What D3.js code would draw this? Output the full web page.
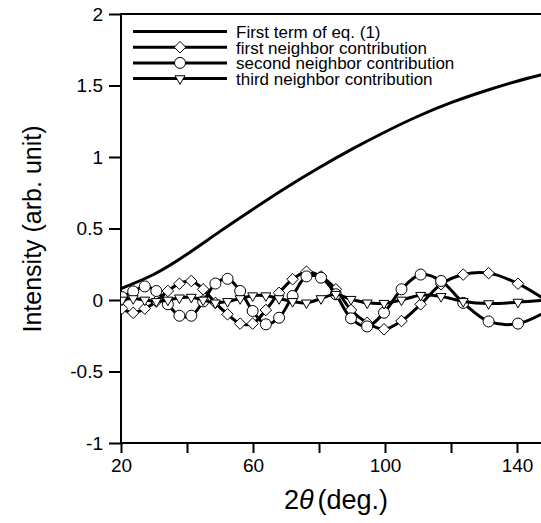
<!DOCTYPE html>
<html>
<head>
<meta charset="utf-8">
<script src="https://cdn.jsdelivr.net/npm/d3@7/dist/d3.min.js"></script>
<style>
    html, body { margin: 0; padding: 0; background: #fff; }
    #chart-container { width: 541px; height: 523px; }
    text { font-family: "Liberation Sans", Arial, sans-serif; fill: #000; }
</style>
</head>
<body>
<div id="chart-container"></div>
<script>
// 2theta positions of the plotted points (deg.)
const twoTheta = [20.3, 23.7, 27.2, 30.7, 34.2, 37.7, 41.3, 44.9, 48.6, 52.3,
                  56.1, 59.9, 63.9, 67.9, 72.0, 76.2, 80.6, 85.1, 89.7, 94.6,
                  99.7, 105.0, 110.8, 117.0, 123.7, 131.4, 140.3, 151.9];

// neighbor contributions
const firstNeighbor = [-0.06, -0.09, -0.06, -0.01, 0.063, 0.114, 0.133, 0.075, -0.02, -0.10,
                       -0.165, -0.165, -0.07, 0.05, 0.145, 0.198, 0.165, 0.075, -0.07, -0.16,
                       -0.205, -0.147, -0.03, 0.11, 0.178, 0.188, 0.114, -0.05];
const secondNeighbor = [0.02, 0.06, 0.095, 0.063, -0.03, -0.11, -0.11, -0.01, 0.115, 0.148,
                        0.063, -0.077, -0.17, -0.124, 0.028, 0.165, 0.156, 0.04, -0.128, -0.185,
                        -0.089, 0.075, 0.178, 0.133, -0.02, -0.15, -0.165, -0.04];
const thirdNeighbor = [0.0, 0.01, 0.0, -0.01, 0.0, 0.015, 0.02, 0.0, -0.02, -0.01,
                       0.01, 0.03, 0.03, 0.01, -0.01, -0.02, 0.01, 0.04, 0.005, -0.02,
                       -0.023, 0.0, 0.033, 0.025, -0.01, -0.025, -0.015, 0.005];

// first term of eq. (1), smooth curve
const firstTermX = [20, 30, 40, 50, 60, 70, 80, 90, 100, 110, 120, 130, 140, 150];
const firstTermY = [0.08, 0.18, 0.32, 0.48, 0.635, 0.785, 0.925, 1.055, 1.175, 1.285, 1.38, 1.46, 1.53, 1.59];

const xTicks = [20, 40, 60, 80, 100, 120, 140];
const xTickLabels = ['20', '', '60', '', '100', '', '140'];
const yTicks = [-1, -0.5, 0, 0.5, 1, 1.5, 2];
const yTickLabels = ['-1', '-0.5', '0', '0.5', '1', '1.5', '2'];

const legendLabels = ['First term of eq. (1)', 'first neighbor contribution',
                      'second neighbor contribution', 'third neighbor contribution'];

document.addEventListener('DOMContentLoaded', function() {
    const container = document.getElementById('chart-container');

    // Plot area in page pixels
    const left = 121, right = 541, top = 14, bottom = 443;

    const svg = d3.select(container)
        .append('svg')
        .attr('width', 541)
        .attr('height', 523);

    // Scales
    const x = d3.scaleLinear()
        .domain([20, 140])
        .range([left, 517]);

    const y = d3.scaleLinear()
        .domain([-1, 2])
        .range([bottom, top]);

    svg.append('clipPath')
        .attr('id', 'plot-clip')
        .append('rect')
        .attr('x', left)
        .attr('y', top)
        .attr('width', right - left)
        .attr('height', bottom - top);

    // Axes
    const xAxis = svg.append('g')
        .attr('transform', `translate(0,${bottom})`)
        .call(d3.axisBottom(x)
            .tickValues(xTicks)
            .tickFormat((d, i) => xTickLabels[i])
            .tickSize(10)
            .tickSizeOuter(0)
            .tickPadding(6));

    const yAxis = svg.append('g')
        .attr('transform', `translate(${left},0)`)
        .call(d3.axisLeft(y)
            .tickValues(yTicks)
            .tickFormat((d, i) => yTickLabels[i])
            .tickSize(12)
            .tickSizeOuter(0)
            .tickPadding(6));

    [xAxis, yAxis].forEach(axis => {
        axis.select('.domain').remove();
        axis.selectAll('line').attr('stroke', '#000').attr('stroke-width', 2);
        axis.selectAll('text')
            .style('font-size', '19px')
            .style('font-family', '"Liberation Sans", Arial, sans-serif');
    });

    // Axis lines (left, bottom, top border)
    svg.append('path')
        .attr('d', `M${right},${top}H${left}V${bottom}H${right}`)
        .attr('fill', 'none')
        .attr('stroke', '#000')
        .attr('stroke-width', 2);

    // Axis titles
    svg.append('text')
        .attr('transform', 'translate(41,229) rotate(-90)')
        .attr('text-anchor', 'middle')
        .style('font-size', '25px')
        .text('Intensity (arb. unit)');

    const xTitle = svg.append('text')
        .attr('x', 336)
        .attr('y', 509)
        .attr('text-anchor', 'middle')
        .style('font-size', '27px');
    xTitle.append('tspan').text('2');
    xTitle.append('tspan').style('font-style', 'italic').text('\u03B8');
    xTitle.append('tspan').attr('dx', 4).text('(deg.)');

    const plot = svg.append('g').attr('clip-path', 'url(#plot-clip)');

    const line = d3.line()
        .x(d => x(d[0]))
        .y(d => y(d[1]))
        .curve(d3.curveCatmullRom);

    const smoothLine = d3.line()
        .x(d => x(d[0]))
        .y(d => y(d[1]))
        .curve(d3.curveNatural);

    // First term curve
    plot.append('path')
        .datum(firstTermX.map((v, i) => [v, firstTermY[i]]))
        .attr('d', smoothLine)
        .attr('fill', 'none')
        .attr('stroke', '#000')
        .attr('stroke-width', 3);

    const symbols = [
        d3.symbol().type(d3.symbolDiamond2).size(85),
        d3.symbol().type(d3.symbolCircle).size(95),
        d3.symbol().type(d3.symbolTriangle2).size(70)
    ];
    const rotations = [0, 0, 180];
    const series = [firstNeighbor, secondNeighbor, thirdNeighbor];

    series.forEach((values, s) => {
        const pts = twoTheta.map((v, i) => [v, values[i]]);

        plot.append('path')
            .datum(pts)
            .attr('d', line)
            .attr('fill', 'none')
            .attr('stroke', '#000')
            .attr('stroke-width', 3);

        plot.selectAll(`.marker-${s}`)
            .data(pts)
            .enter()
            .append('path')
            .attr('class', `marker-${s}`)
            .attr('d', symbols[s])
            .attr('transform', d => `translate(${x(d[0])},${y(d[1])}) rotate(${rotations[s]})`)
            .attr('fill', '#fff')
            .attr('stroke', '#000')
            .attr('stroke-width', 1);
    });

    // Legend
    const legend = svg.append('g');
    legendLabels.forEach((label, i) => {
        const ly = 31.5 + i * 15.7;
        legend.append('line')
            .attr('x1', 133)
            .attr('x2', 227)
            .attr('y1', ly)
            .attr('y2', ly)
            .attr('stroke', '#000')
            .attr('stroke-width', 3);
        if (i > 0) {
            legend.append('path')
                .attr('d', symbols[i - 1])
                .attr('transform', `translate(180,${ly}) rotate(${rotations[i - 1]})`)
                .attr('fill', '#fff')
                .attr('stroke', '#000')
                .attr('stroke-width', 1);
        }
        legend.append('text')
            .attr('x', 236)
            .attr('y', ly + 6.5)
            .style('font-size', '17px')
            .text(label);
    });
});
</script>
</body>
</html>
